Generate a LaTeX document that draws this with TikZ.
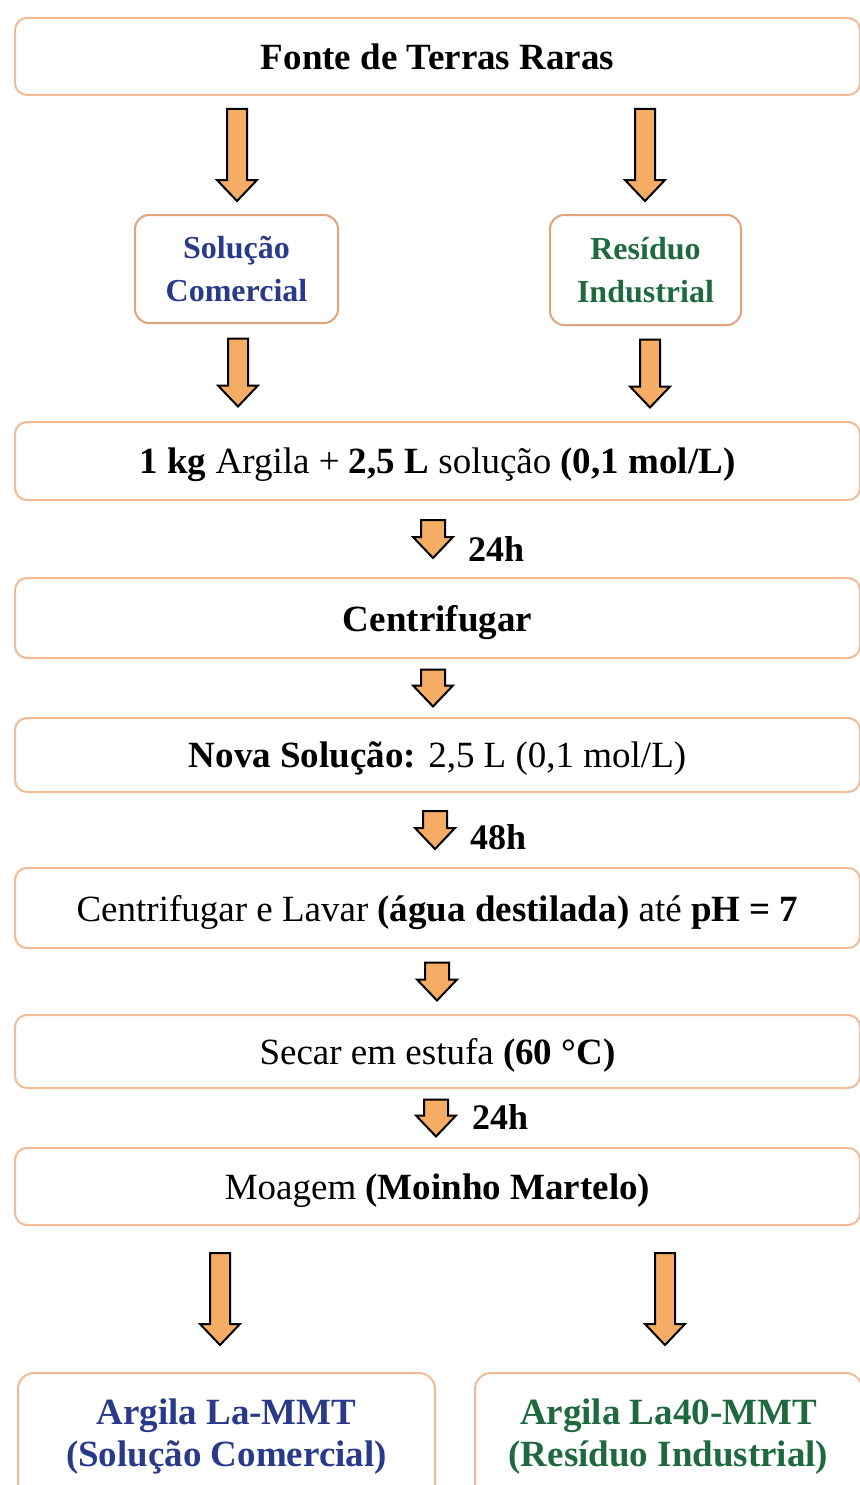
\documentclass[tikz,border=0pt]{standalone}
\usepackage{fontspec}
\setmainfont{Liberation Serif}
\usetikzlibrary{calc}

\definecolor{boxline}{RGB}{240,188,150}
\definecolor{subline}{RGB}{226,162,122}
\definecolor{arrowfill}{RGB}{245,172,100}
\definecolor{solblue}{RGB}{42,58,138}
\definecolor{resgreen}{RGB}{30,105,62}

% fat block arrow: [shaft half width]{x}{from node}{to node}{length}
\newcommand{\fatarrow}[5][10]{%
  \draw[fat] let \p1=(#3.south), \p2=(#4.north),
    \n1={(\y1+\y2)/2+#5*0.5pt}, \n2={(\y1+\y2)/2-#5*0.5pt} in
    (#2pt-#1pt,\n1) -- (#2pt+#1pt,\n1) -- (#2pt+#1pt,\n2+21pt) -- (#2pt+20pt,\n2+21pt)
    -- (#2pt,\n2) -- (#2pt-20pt,\n2+21pt) -- (#2pt-#1pt,\n2+21pt) -- cycle;}

\begin{document}
\begin{tikzpicture}[x=1pt,y=1pt]
  \tikzset{%
    wide/.style={draw=boxline, line width=2pt, rounded corners=12pt,
      minimum width=845pt, inner sep=0pt, text depth=0pt, font=\fontsize{37}{42}\selectfont},
    sub/.style={draw=subline, line width=2pt, rounded corners=14pt,
      inner sep=0pt, align=center, font=\fontsize{32}{43}\selectfont\bfseries},
    last/.style={draw=boxline, line width=2pt, rounded corners=16pt,
      inner sep=0pt, align=center, font=\fontsize{37}{42}\selectfont\bfseries},
    fat/.style={draw=black, line width=2pt, fill=arrowfill, line join=miter},
    hours/.style={font=\fontsize{36}{42}\selectfont\bfseries, anchor=west, inner sep=0pt},
  }
  \useasboundingbox (0,0) rectangle (859,-1485);
  % boxes
  \node[wide, minimum height=77pt, font=\fontsize{37}{42}\selectfont\bfseries] (fonte) at (437.5,-56.5) {Fonte de Terras Raras};
  \node[sub, minimum width=203pt, minimum height=108pt, text=solblue] (sol) at (236.5,-269) {Solução\\Comercial};
  \node[sub, minimum width=191pt, minimum height=110pt, text=resgreen] (res) at (645.5,-270) {Resíduo\\Industrial};
  \node[wide, minimum height=78pt] (mist) at (437.5,-461) {\textbf{1 kg} Argila + \textbf{2,5 L} solução \textbf{(0,1 mol/L)}};
  \node[wide, minimum height=80pt] (cent) at (437.5,-618) {\textbf{Centrifugar}};
  \node[wide, minimum height=74pt] (nova) at (437.5,-755) {\textbf{Nova Solução:} 2,5 L (0,1 mol/L)};
  \node[wide, minimum height=80pt] (lavar) at (437.5,-908) {Centrifugar e Lavar \textbf{(água destilada)} até \textbf{pH = 7}};
  \node[wide, minimum height=73pt] (secar) at (437.5,-1051.5) {Secar em estufa \textbf{(60 °C)}};
  \node[wide, minimum height=77pt] (moag) at (437.5,-1186.5) {Moagem \textbf{(Moinho Martelo)}};
  \node[last, minimum width=417pt, minimum height=128pt, text=solblue] (lammt) at (226.5,-1437) {Argila La-MMT\\(Solução Comercial)};
  \node[last, minimum width=387pt, minimum height=128pt, text=resgreen] (la40) at (668.5,-1437) {Argila La40-MMT\\(Resíduo Industrial)};
  % time labels
  \node[hours] (t1) at (468,-549) {24h};
  \node[hours] (t2) at (470,-837) {48h};
  \node[hours] (t3) at (472,-1117) {24h};
  % arrows
  \fatarrow{237}{fonte}{sol}{92}
  \fatarrow{645}{fonte}{res}{92}
  \fatarrow{238}{sol}{mist}{68}
  \fatarrow{650}{res}{mist}{68}
  \fatarrow[12]{433}{mist}{cent}{38}
  \fatarrow[12]{433}{cent}{nova}{37}
  \fatarrow[12]{435}{nova}{lavar}{38}
  \fatarrow[12]{437}{lavar}{secar}{38}
  \fatarrow[12]{436}{secar}{moag}{37}
  \fatarrow{220}{moag}{lammt}{92}
  \fatarrow{665}{moag}{la40}{92}
\end{tikzpicture}
\end{document}
